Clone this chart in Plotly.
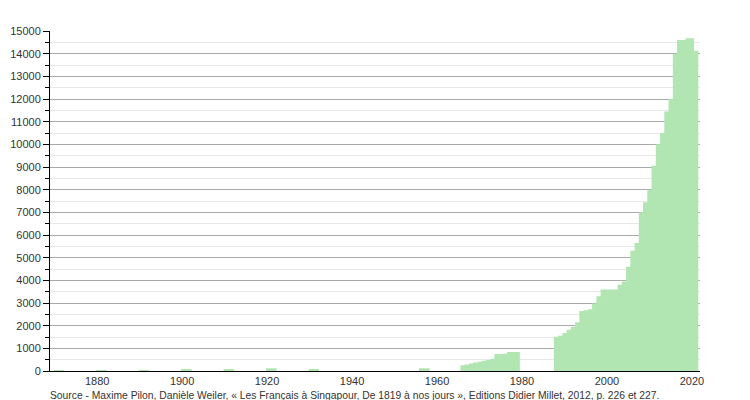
import plotly.graph_objects as go

# Sparse census years (drawn as wider bars)
years_sparse = [1871, 1881, 1891, 1901, 1911, 1921, 1931, 1957]
values_sparse = [30, 30, 30, 90, 90, 120, 75, 120]

# Annual series 1966-1979
years_a = list(range(1966, 1980))
values_a = [250, 290, 330, 370, 410, 450, 490, 540, 750, 750, 760, 840, 840, 840]

# Annual series 1988-2021
years_b = list(range(1988, 2022))
values_b = [1510, 1560, 1680, 1820, 1950, 2150, 2650, 2680, 2720, 2980,
            3300, 3600, 3600, 3600, 3600, 3800, 3950, 4600, 5300, 5650,
            7000, 7450, 8000, 9050, 10000, 10500, 11450, 12000, 14000, 14600,
            14600, 14680, 14680, 14130]

x_ticks = [1880, 1900, 1920, 1940, 1960, 1980, 2000, 2020]
source_text = ("Source - Maxime Pilon, Danièle Weiler, « Les Français à Singapour, "
               "De 1819 à nos jours », Editions Didier Millet, 2012, p. 226 et 227.")

GREEN = "#b1e5b1"

fig = go.Figure()
fig.add_trace(go.Bar(x=years_sparse, y=values_sparse, width=2.5,
                     marker=dict(color=GREEN, line=dict(width=0)),
                     hoverinfo="x+y"))


def step_trace(years, values):
    # each year occupies [year-0.5, year+0.5]
    xs = [y - 0.5 for y in years] + [years[-1] + 0.5]
    ys = list(values) + [values[-1]]
    return go.Scatter(x=xs, y=ys, mode="lines", line_shape="hv",
                      line=dict(width=0, color=GREEN), fill="tozeroy",
                      fillcolor=GREEN, hoverinfo="skip")


fig.add_trace(step_trace(years_a, values_a))
fig.add_trace(step_trace(years_b, values_b))

font = dict(family="Liberation Sans, Arial, sans-serif", size=11, color="#333333")
src_font = dict(family="Liberation Sans, Arial, sans-serif", size=10.3, color="#333333")

# page body has an 8px margin, compensate so the plot area lands at x 50-700, y 31-371
fig.update_layout(
    width=750, height=400,
    margin=dict(l=42, r=58, t=23, b=37),
    paper_bgcolor="white", plot_bgcolor="white",
    showlegend=False,
    font=font,
    xaxis=dict(range=[1868.9, 2021.9], tickvals=x_ticks, ticks="",
               showgrid=False, showline=True, linecolor="black", linewidth=1,
               zeroline=False, tickfont=font, automargin=False),
    yaxis=dict(range=[0, 15000], dtick=1000, tick0=0, tickformat="d",
               ticks="outside", ticklen=6, tickcolor="black", showline=True,
               linecolor="black", linewidth=1, showgrid=True,
               gridcolor="#aaaaaa", gridwidth=1, zeroline=False, tickfont=font,
               automargin=False,
               minor=dict(dtick=500, tick0=0, ticks="outside", ticklen=4,
                          tickcolor="black", showgrid=True, gridcolor="#e8e8e8")),
    annotations=[dict(text=source_text, xref="paper", yref="paper",
                      x=-0.003, y=-0.072, xanchor="left", yanchor="middle",
                      showarrow=False, font=src_font)],
)

fig.write_html("out.html")
